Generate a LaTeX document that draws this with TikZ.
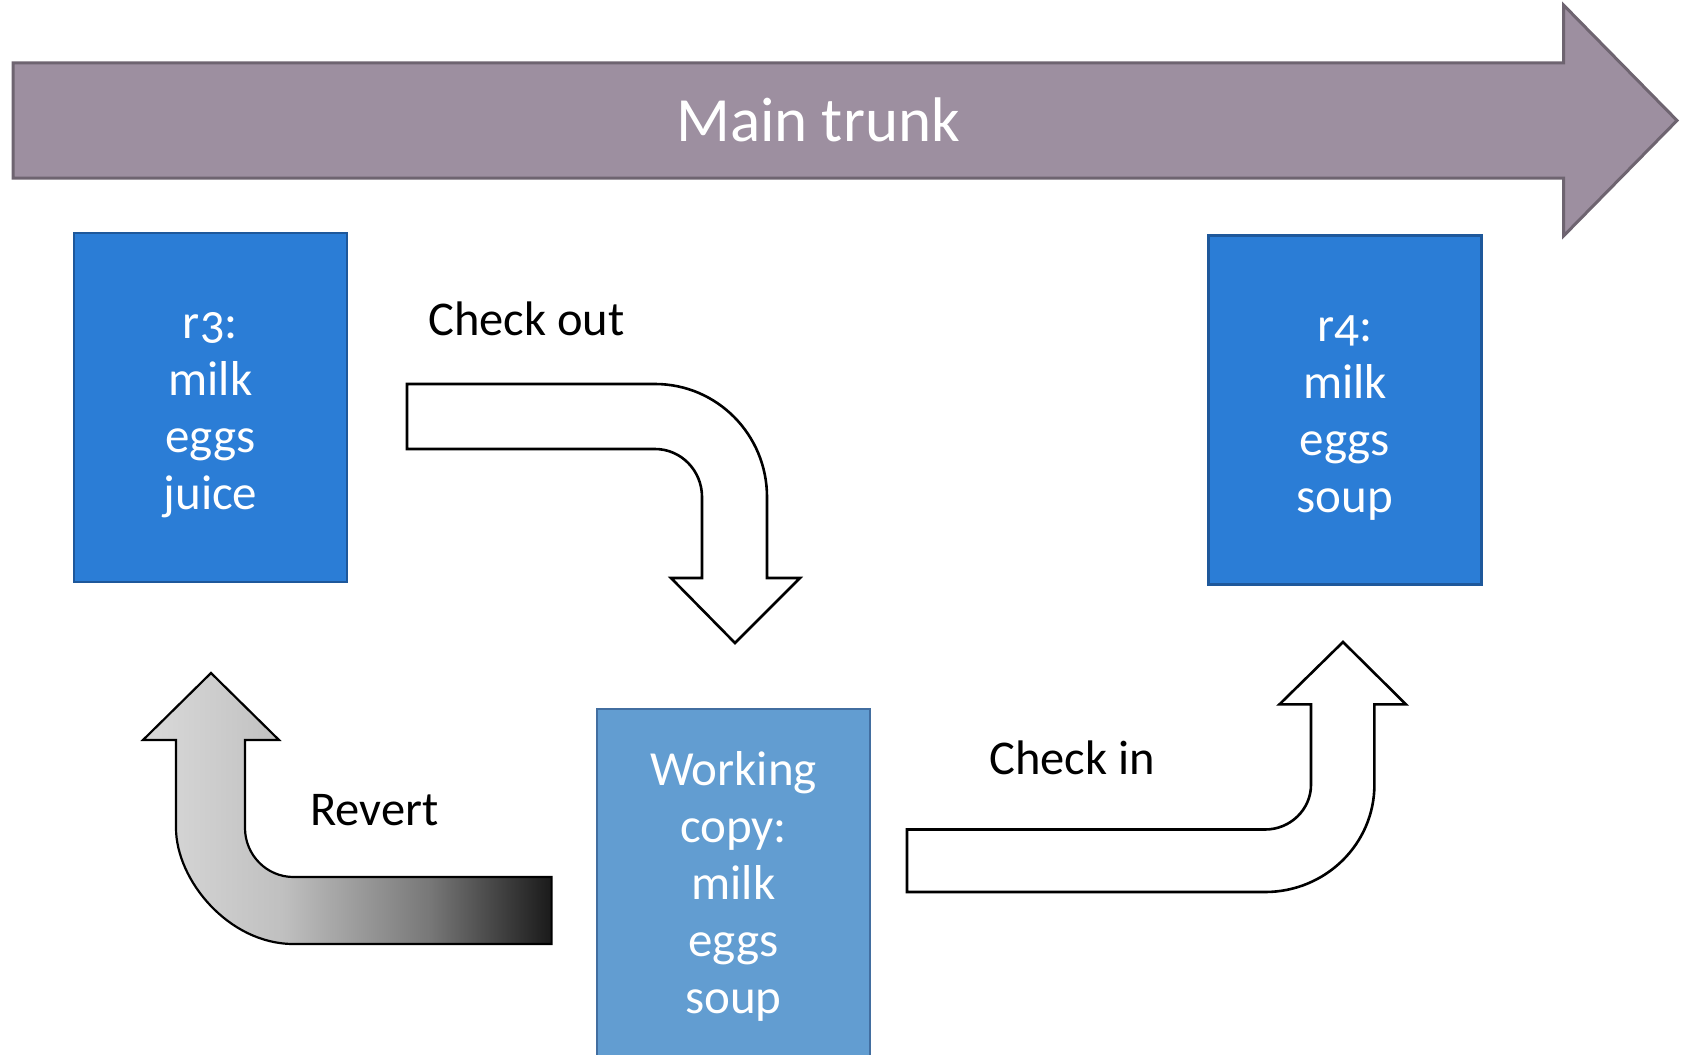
\documentclass[tikz,border=0pt]{standalone}
\usepackage{fontspec}
\setmainfont[Numbers=OldStyle]{Carlito}
\definecolor{trunkfill}{RGB}{157,143,160}
\definecolor{trunkline}{RGB}{110,100,112}
\definecolor{revfill}{RGB}{43,125,214}
\definecolor{revline}{RGB}{30,88,155}
\definecolor{wcfill}{RGB}{98,157,209}
\definecolor{wcline}{RGB}{66,110,160}
\definecolor{gL}{RGB}{218,218,218}
\definecolor{gM}{RGB}{192,192,192}
\definecolor{gD1}{RGB}{120,120,120}
\definecolor{gD}{RGB}{26,26,26}
\pgfdeclarehorizontalshading{revertshade}{100bp}{color(0bp)=(gL); color(25bp)=(gL); color(42bp)=(gM); color(60bp)=(gD1); color(75bp)=(gD); color(100bp)=(gD)}
\tikzset{
  revbox/.style={rectangle, draw=revline, fill=revfill, line width=2.5pt, minimum width=273pt, minimum height=349pt, inner sep=0pt},
  wcbox/.style={rectangle, draw=wcline, fill=wcfill, line width=2.5pt, minimum width=273pt, minimum height=360pt, inner sep=0pt},
  boxtext/.style={text=white, font=\fontsize{49}{57}\selectfont, align=center, inner sep=0pt, anchor=base},
  label/.style={text=black, font=\fontsize{48.5}{58}\selectfont, inner sep=0pt, anchor=base west},
  blockarrow/.style={draw=black, fill=white, line width=2.6pt, line join=miter},
}
\begin{document}
\begin{tikzpicture}[x=1pt, y=-1pt]
\useasboundingbox (0,0) rectangle (1685,1054);
\clip (0,0) rectangle (1685,1054);

% main trunk arrow
\path[draw=trunkline, fill=trunkfill, line width=3pt]
  (13,63) -- (1563.5,63) -- (1563.5,5) -- (1677,120.5) -- (1563.5,236) -- (1563.5,178) -- (13,178) -- cycle;
\node[text=white, font=\fontsize{63}{70}\selectfont, inner sep=0pt, anchor=base] (trunk) at (818,142) {Main trunk};

% revisions (text nodes are placed by the baseline of their last line)
\node[revbox] (r3) at (210.5,407.5) {};
\node[boxtext] (r3txt) at (210.5,509) {r3:\\milk\\eggs\\juice};
\node[revbox] (r4) at (1345,410) {};
\node[boxtext] (r4txt) at (1345,512) {r4:\\milk\\eggs\\soup};

% working copy (runs off the bottom edge)
\node[wcbox] (wc) at (733.5,889) {};
\node[boxtext] (wctxt) at (733.5,1013) {Working\\copy:\\milk\\eggs\\soup};

% check out arrow
\path[blockarrow]
  (407,384) -- (655,384) .. controls (716.9,384) and (767,434.6) .. (767,497)
  -- (767,578) -- (800,578) -- (735,643) -- (671,578) -- (702,578) -- (702,497)
  .. controls (702,470.5) and (681,449) .. (655,449) -- (407,449) -- cycle;
\node[label] (checkout) at (428,335) {Check out};

% revert arrow
\path[draw=black, line width=2.2pt, shading=revertshade]
  (211,673) -- (279,740) -- (245,740) -- (245,828)
  .. controls (245,855) and (266.7,877) .. (293.5,877) -- (551.6,877) -- (551.6,944) -- (293.5,944)
  .. controls (228.6,944) and (176,879.9) .. (176,828) -- (176,740) -- (143,740) -- cycle;
\node[label] (revert) at (310,825) {Revert};

% check in arrow
\path[blockarrow]
  (907,829.5) -- (1265,829.5) .. controls (1290.4,829.5) and (1311,809.4) .. (1311,784.7)
  -- (1311,704.4) -- (1279.4,704.4) -- (1343,642) -- (1406,704.4) -- (1374.4,704.4) -- (1374.4,784.7)
  .. controls (1374.4,844) and (1325.4,892) .. (1265,892) -- (907,892) -- cycle;
\node[label] (checkin) at (989,774) {Check in};
\end{tikzpicture}
\end{document}
